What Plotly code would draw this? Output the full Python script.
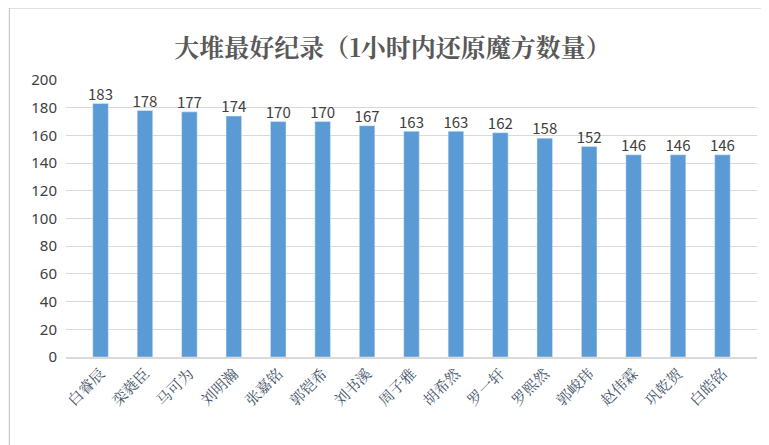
import plotly.graph_objects as go

names = ["白睿辰", "栾蕤臣", "马可为", "刘明瀚", "张嘉铭", "郭铠希", "刘书溪", "周子雅",
         "胡希然", "罗一轩", "罗熙然", "郭峻玮", "赵伟霖", "巩乾贺", "白皓铭"]
scores = [183, 178, 177, 174, 170, 170, 167, 163, 163, 162, 158, 152, 146, 146, 146]

fig = go.Figure()
fig.add_bar(x=names, y=scores, width=0.35, marker_color="#5B9BD5")
fig.add_scatter(x=names, y=scores, mode="text", text=scores, textposition="top center",
	cliponaxis=False, textfont=dict(size=15, color="#404040", family="Noto Sans CJK SC"))
fig.update_layout(
	width=769, height=445,
	margin=dict(l=58, r=20, t=72, b=96, autoexpand=False),
	paper_bgcolor="white", plot_bgcolor="white",
	title=dict(text="<b>大堆最好纪录（1小时内还原魔方数量）</b>", x=0.5, y=0.93, xanchor="center",
		font=dict(size=25, color="#595959", family="Noto Serif CJK SC, Noto Sans CJK SC")),
	showlegend=False,
	shapes=[dict(type="rect", xref="paper", yref="paper", x0=-0.082, x1=1.022, y0=-0.34, y1=1.26,
		line=dict(color="#BFBFBF", width=1))],
)
fig.update_yaxes(range=[0, 200], dtick=20, gridcolor="#D9D9D9", zeroline=False,
	tickfont=dict(size=15, color="#404040", family="Noto Sans"), ticklabelstandoff=8)
fig.update_xaxes(tickangle=-45, showline=True, linecolor="#D9D9D9", linewidth=2,
	tickfont=dict(size=15, color="#44546A", family="Noto Serif CJK SC, Noto Sans CJK SC"))
fig.write_html("out.html")
